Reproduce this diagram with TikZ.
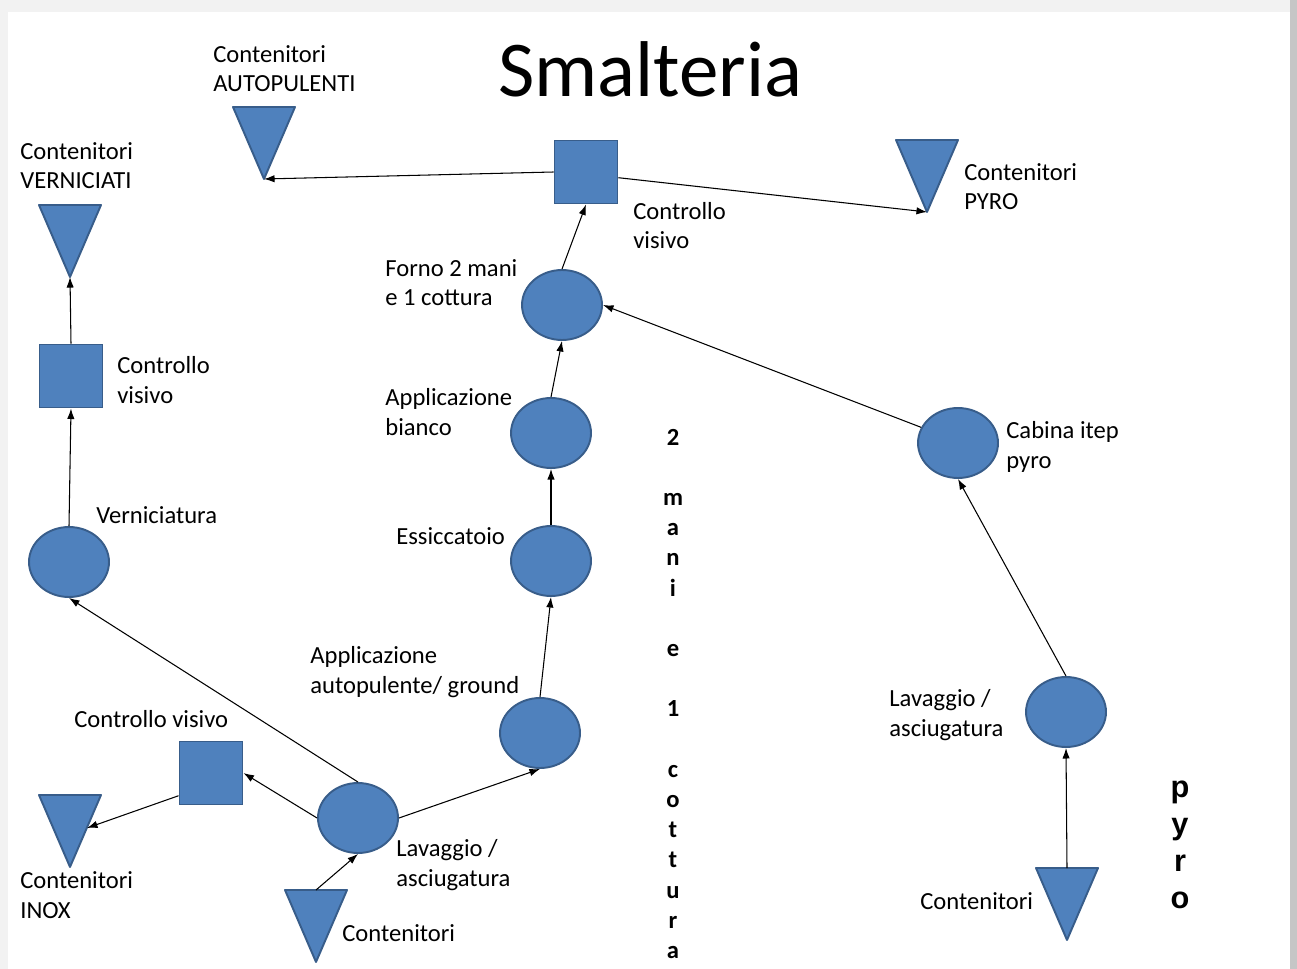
\documentclass[tikz,border=0pt]{standalone}
\usepackage{fontspec}
\setmainfont{Carlito}
\newfontfamily\pyrofont{Liberation Sans}
\usetikzlibrary{arrows.meta,shapes.geometric,positioning}
\definecolor{shapeblue}{HTML}{4F81BD}
\definecolor{shapeborder}{HTML}{385D8A}
\tikzstyle{station} = [ellipse,draw=shapeborder,fill=shapeblue,line width=1.1pt,minimum width=1.6cm,minimum height=1.4cm,inner sep=0]
\tikzstyle{check} = [rectangle,draw=shapeborder,fill=shapeblue,line width=1.1pt,minimum size=1.26cm,inner sep=0]
\tikzstyle{bin} = [draw=shapeborder,fill=shapeblue,line width=1.1pt,line join=round]
\tikzstyle{tag} = [anchor=base west,align=left,inner sep=0,font=\fontsize{14}{17}\selectfont]
\tikzstyle{flow} = [->,line width=0.6pt]

\begin{document}
\begin{tikzpicture}[x=0.02cm,y=-0.02cm,>={Latex[length=6pt,width=4.2pt]}]
\useasboundingbox (0,0) rectangle (1297,969);
% slide
\fill[gray!10] (0,0) rectangle (1297,969);
\fill[white] (8,12) rectangle (1290,969);
\fill[gray!45] (1290,0) rectangle (1297,969);

\node[anchor=base west,inner sep=0,font=\fontsize{45}{50}\selectfont] (title) at (498,97) {Smalteria};

%%% Containers (triangles)
\foreach \n/\x/\y in {autop/264/107, vern/70/205, pyro/927/140, inox/70/795, cont/316/890, contR/1067/868} {
    \draw[bin] (\x-31,\y) -- (\x+31,\y) -- (\x,\y+72) -- cycle;
    \coordinate (\n tip) at (\x,\y+72);
    \coordinate (\n top) at (\x,\y);
}
\coordinate (inoxside) at (87,828);

%%% Stations
\node[station] (forno) at (562,305) {};
\node[station] (bianco) at (551,433) {};
\node[station] (essic) at (551,561) {};
\node[station] (autopul) at (540,733) {};
\node[station] (lav) at (358,818) {};
\node[station] (vern) at (69,562) {};
\node[station] (cabina) at (958,443) {};
\node[station] (lavR) at (1066,712) {};

%%% Visual checks
\node[check] (ctrlA) at (586,172) {};
\node[check] (ctrlV) at (71,376) {};
\node[check] (ctrlI) at (211,773) {};

%%% Flow
\draw[flow] (ctrlA.west) -- (autoptip);
\draw[flow] (ctrlA.-10) -- (pyrotip);
\draw[flow] (forno.north) -- (ctrlA.south);
\draw[flow] (bianco.north) -- (forno.south);
\draw[flow] (essic.north) -- (bianco.south);
\draw[flow] (autopul.north) -- (essic.south);
\draw[flow] (lav.east) -- (autopul.south);
\draw[flow] (conttop) -- (lav.south);
\draw[flow] (lav.north) -- (vern.south);
\draw[flow] (lav.west) -- (ctrlI.east);
\draw[flow] (ctrlI.215) -- (inoxside);
\draw[flow] (vern.north) -- (ctrlV.south);
\draw[flow] (ctrlV.north) -- (verntip);
\draw[flow] (contRtop) -- (lavR.south);
\draw[flow] (lavR.north) -- (cabina.south);
\draw[flow] (cabina.157) -- (forno.east);

%%% Labels (base = last line)
\node[tag] (tAutop) at (213,92) {Contenitori\\AUTOPULENTI};
\node[tag] (tVern) at (20,189) {Contenitori\\VERNICIATI};
\node[tag] (tPyro) at (964,210) {Contenitori\\PYRO};
\node[tag] (tCtrlA) at (633,249) {Controllo\\visivo};
\node[tag] (tForno) at (385,306) {Forno 2 mani\\e 1 cottura};
\node[tag] (tCtrlV) at (117,403) {Controllo\\visivo};
\node[tag] (tBianco) at (385,435) {Applicazione\\bianco};
\node[tag] (tCabina) at (1006,468) {Cabina itep\\pyro};
\node[tag] (tVernic) at (96,523) {Verniciatura};
\node[tag] (tEssic) at (396,544) {Essiccatoio};
\node[tag] (tAutopul) at (310,693) {Applicazione\\autopulente/ ground};
\node[tag] (tLavR) at (889,736) {Lavaggio /\\asciugatura};
\node[tag] (tCtrlI) at (74,727) {Controllo visivo};
\node[tag] (tLav) at (396,886) {Lavaggio /\\asciugatura};
\node[tag] (tInox) at (20,918) {Contenitori\\INOX};
\node[tag] (tCont) at (342,941) {Contenitori};
\node[tag] (tContR) at (920,909) {Contenitori};

%%% Vertical captions
\foreach \c/\k in {2/0,m/2,a/3,n/4,i/5,e/7,1/9,c/11,o/12,t/13,t/14,u/15,r/16,a/17}
    \node[anchor=base,inner sep=0,font=\fontsize{14}{17}\bfseries\selectfont] (line\k) at (673,445+30.2*\k) {\c};
\foreach \c/\k in {p/0,y/1,r/2,o/3}
    \node[anchor=base,inner sep=0,font=\pyrofont\fontsize{17.5}{20}\bfseries\selectfont] (pyro\k) at (1180,797+37*\k) {\c};
\end{tikzpicture}
\end{document}
